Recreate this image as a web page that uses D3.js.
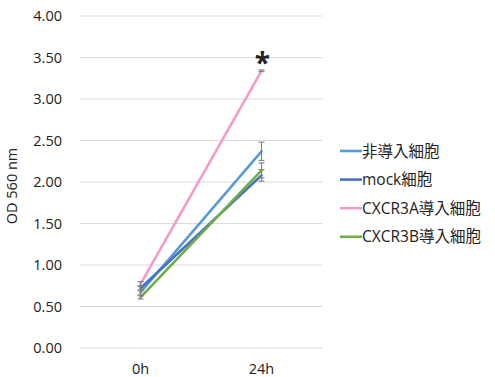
<!DOCTYPE html>
<html>
<head>
<meta charset="utf-8">
<script src="https://cdn.jsdelivr.net/npm/d3@7"></script>
<style>
  html, body { margin: 0; padding: 0; background: #fff; }
  svg { display: block; }
  text { font-family: "Open Sans", "Noto Sans CJK JP", sans-serif; fill: #222; }
</style>
</head>
<body>
<svg id="chart" width="495" height="377"></svg>
<script>
// Time points on the x axis
const timepoints = ["0h", "24h"];

// Series names (legend order) and colours
const seriesNames = ["非導入細胞", "mock細胞", "CXCR3A導入細胞", "CXCR3B導入細胞"];
const seriesColors = ["#5B9BD5", "#4472C4", "#F59BC8", "#70AD47"];

// Mean OD 560 nm per series at 0h / 24h
const nonTransduced = [0.67, 2.37];
const mock          = [0.72, 2.08];
const cxcr3a        = [0.77, 3.34];
const cxcr3b        = [0.61, 2.14];

// Standard deviation per series at 0h / 24h
const nonTransducedErr = [0.03, 0.11];
const mockErr          = [0.03, 0.07];
const cxcr3aErr        = [0.03, 0.01];
const cxcr3bErr        = [0.02, 0.09];

// Y axis ticks
const yTicks = [0, 0.5, 1, 1.5, 2, 2.5, 3, 3.5, 4];

const series = [
  { name: seriesNames[0], color: seriesColors[0], values: nonTransduced, err: nonTransducedErr },
  { name: seriesNames[1], color: seriesColors[1], values: mock,          err: mockErr },
  { name: seriesNames[2], color: seriesColors[2], values: cxcr3a,        err: cxcr3aErr },
  { name: seriesNames[3], color: seriesColors[3], values: cxcr3b,        err: cxcr3bErr }
];

const svg = d3.select("#chart");
const plot = { left: 80, right: 322, top: 16, bottom: 348 };

const x = d3.scaleBand().domain(timepoints).range([plot.left, plot.right]);
const y = d3.scaleLinear().domain([0, 4]).range([plot.bottom, plot.top]);
const cx = d => x(d) + x.bandwidth() / 2;

// Horizontal gridlines
svg.append("g")
  .selectAll("line")
  .data(yTicks)
  .join("line")
  .attr("x1", plot.left).attr("x2", plot.right)
  .attr("y1", d => y(d)).attr("y2", d => y(d))
  .attr("stroke", "#d9d9d9").attr("stroke-width", 1);

// Y axis labels
const yAxis = svg.append("g")
  .attr("transform", `translate(${plot.left},0)`)
  .call(d3.axisLeft(y).tickValues(yTicks).tickFormat(d3.format(".2f")).tickSize(0).tickPadding(18));
yAxis.select(".domain").remove();
yAxis.selectAll("text").style("font-size", "14.5px").attr("fill", "#222").attr("font-family", null);

// X axis labels
const xAxis = svg.append("g")
  .attr("transform", `translate(0,${plot.bottom})`)
  .call(d3.axisBottom(x).tickSize(0).tickPadding(16));
xAxis.select(".domain").remove();
xAxis.selectAll("text").style("font-size", "14.5px").attr("fill", "#222").attr("font-family", null);

// Y axis title
svg.append("text")
  .attr("transform", `translate(17,${(plot.top + plot.bottom) / 2 + 4}) rotate(-90)`)
  .attr("text-anchor", "middle")
  .style("font-size", "14.5px")
  .text("OD 560 nm");

// Lines
const line = d3.line().x((d, i) => cx(timepoints[i])).y(d => y(d));
svg.append("g")
  .selectAll("path")
  .data(series)
  .join("path")
  .attr("d", s => line(s.values))
  .attr("fill", "none")
  .attr("stroke", s => s.color)
  .attr("stroke-width", 2.6)
  .attr("stroke-linecap", "round");

// Error bars
const errG = svg.append("g").attr("stroke", "#7f7f7f").attr("stroke-width", 1.1);
series.forEach(s => {
  s.values.forEach((v, i) => {
    const px = cx(timepoints[i]);
    const top = y(v + s.err[i]), bot = y(v - s.err[i]);
    errG.append("line").attr("x1", px).attr("x2", px).attr("y1", top).attr("y2", bot);
    errG.append("line").attr("x1", px - 3).attr("x2", px + 3).attr("y1", top).attr("y2", top);
    errG.append("line").attr("x1", px - 3).attr("x2", px + 3).attr("y1", bot).attr("y2", bot);
  });
});

// Significance marker above CXCR3A at 24h
svg.append("text")
  .attr("x", cx("24h") + 1)
  .attr("y", y(cxcr3a[1] + cxcr3aErr[1]) + 3)
  .attr("text-anchor", "middle")
  .style("font-size", "28px")
  .style("font-weight", "bold")
  .text("*");

// Legend
const legend = svg.append("g").attr("transform", "translate(340,151)");
const rows = legend.selectAll("g")
  .data(series)
  .join("g")
  .attr("transform", (d, i) => `translate(0,${i * 28.6})`);
rows.append("line")
  .attr("x1", 0).attr("x2", 22).attr("y1", 0).attr("y2", 0)
  .attr("stroke", d => d.color).attr("stroke-width", 2.6);
rows.append("text")
  .attr("x", 22).attr("y", 5.5)
  .style("font-size", "15.5px")
  .text(d => d.name);
</script>
</body>
</html>
